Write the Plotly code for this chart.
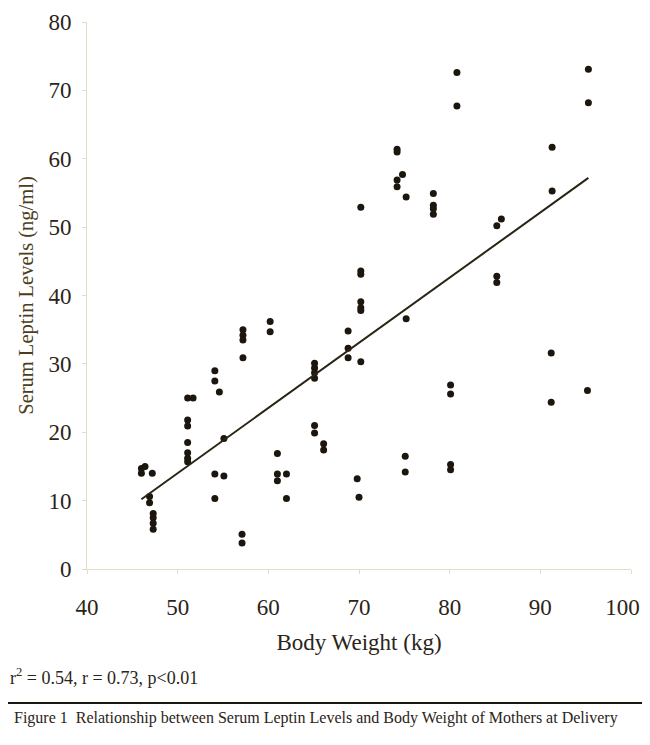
import plotly.graph_objects as go

# body weight (kg) and serum leptin (ng/ml)
weight = [
    46.0, 46.4, 46.0, 47.2, 46.9, 46.9, 47.3, 47.3, 47.3, 47.3,
    51.1, 51.7, 51.1, 51.1, 51.1, 51.1, 51.1, 51.1,
    54.1, 54.1, 54.6, 54.1, 54.1, 55.1, 55.1,
    57.2, 57.2, 57.2, 57.2, 57.1, 57.1,
    60.2, 60.2, 61.0, 61.0, 61.0, 62.0, 62.0,
    65.1, 65.1, 65.1, 65.1, 65.1, 65.1, 66.1, 66.1,
    68.8, 68.8, 68.8,
    70.2, 70.2, 70.2, 70.2, 70.2, 70.2, 70.2, 69.8, 70.0,
    74.2, 74.2, 74.8, 74.2, 74.2, 75.2, 75.2, 75.1, 75.1,
    78.2, 78.2, 78.2, 78.2,
    80.8, 80.8, 80.1, 80.1, 80.1, 80.1,
    85.2, 85.7, 85.2, 85.2,
    91.3, 91.3, 91.2, 91.2,
    95.3, 95.3, 95.2,
]
leptin = [
    14.7, 15.0, 14.0, 14.0, 10.6, 9.7, 8.1, 7.5, 6.7, 5.8,
    25.0, 25.0, 21.8, 20.9, 18.5, 17.0, 16.2, 15.7,
    29.0, 27.5, 25.9, 13.9, 10.3, 19.1, 13.6,
    35.0, 34.2, 33.5, 30.9, 5.1, 3.8,
    36.2, 34.7, 16.9, 13.9, 12.9, 13.9, 10.3,
    30.1, 29.4, 28.7, 27.9, 21.0, 19.9, 18.3, 17.4,
    34.8, 32.3, 30.9,
    52.9, 43.6, 43.1, 39.1, 38.2, 37.8, 30.3, 13.2, 10.5,
    61.4, 61.0, 57.7, 56.9, 55.9, 54.4, 36.6, 16.5, 14.2,
    54.9, 53.2, 52.7, 51.9,
    72.6, 67.7, 26.9, 25.6, 15.3, 14.5,
    50.2, 51.2, 42.8, 41.9,
    61.7, 55.3, 31.6, 24.4,
    73.1, 68.2, 26.1,
]

# regression line end points as drawn in the figure
fit_x = [46.0, 95.3]
fit_y = [10.2, 57.2]

x_ticks = [40, 50, 60, 70, 80, 90, 100]
x_labels = ['40', '50', '60', '70', '80', '90', '100']
y_ticks = [0, 10, 20, 30, 40, 50, 60, 70, 80]

serif = 'Liberation Serif'
ink = '#2b2418'
faint = '#e4ddc6'

# last label sits at the right edge; pad it so it isn't clipped
x_text = x_labels[:-1] + [x_labels[-1] + '&nbsp;&nbsp;&nbsp;']

fig = go.Figure()
fig.add_trace(go.Scatter(x=weight, y=leptin, mode='markers',
                         marker=dict(symbol='circle', size=7, color='#1c160e'),
                         showlegend=False))
fig.add_trace(go.Scatter(x=fit_x, y=fit_y, mode='lines',
                         line=dict(color='#2a2414', width=2),
                         showlegend=False))

# page body has an 8px margin all round, keep the figure inside the window
fig.update_layout(
    width=642, height=729,
    margin=dict(l=79, r=19, t=14, b=168),
    paper_bgcolor='white', plot_bgcolor='white',
    font=dict(family=serif, color=ink),
)
fig.update_xaxes(
    range=[40, 100], tickvals=x_ticks, ticktext=x_text,
    showgrid=False, zeroline=False, ticklabeloverflow='allow',
    showline=True, linecolor=faint, linewidth=1, automargin=False,
    ticks='outside', tickcolor=faint, ticklen=4,
    tickfont=dict(size=23, color=ink), ticklabelstandoff=13,
    title=dict(text='Body Weight (kg)', font=dict(size=23, color=ink), standoff=15),
)
fig.update_yaxes(
    range=[0, 80], tickvals=y_ticks, showgrid=False, zeroline=False,
    showline=True, linecolor=faint, linewidth=1, automargin=False,
    ticks='outside', tickcolor=faint, ticklen=4,
    tickfont=dict(size=23, color=ink), ticklabelstandoff=6,
    title=dict(text='Serum Leptin Levels (ng/ml)', font=dict(size=20.5, color='#4a3d22'), standoff=9),
)

fig.add_annotation(text='r<sup>2</sup> = 0.54, r = 0.73, p&lt;0.01',
                   xref='paper', yref='paper', x=-0.145, y=-0.196,
                   xanchor='left', yanchor='middle', showarrow=False,
                   font=dict(family=serif, size=18, color=ink))
fig.add_shape(type='line', xref='paper', yref='paper',
              x0=-0.16, x1=1.035, y0=-0.245, y1=-0.245,
              line=dict(color='#1a1610', width=2))
fig.add_annotation(text='Figure 1  Relationship between Serum Leptin Levels and Body Weight of Mothers at Delivery',
                   xref='paper', yref='paper', x=-0.138, y=-0.272,
                   xanchor='left', yanchor='middle', showarrow=False,
                   font=dict(family=serif, size=16, color=ink))

fig.write_html('out.html')
